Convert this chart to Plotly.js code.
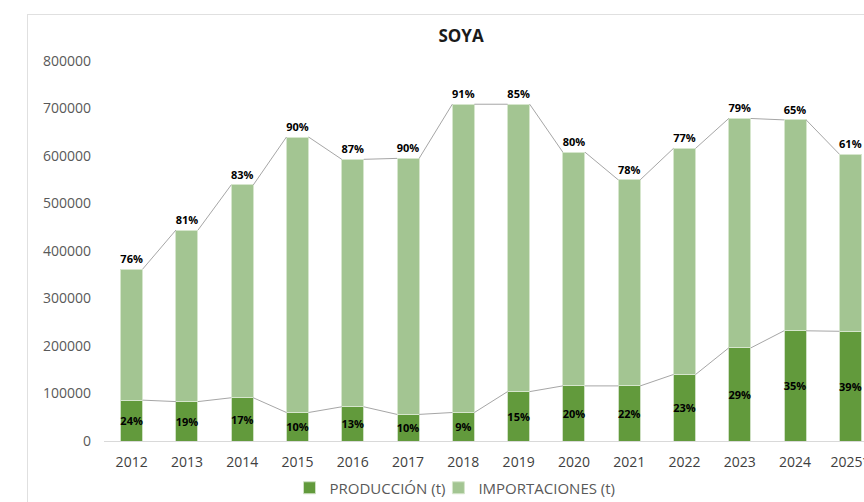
<!DOCTYPE html>
<html>
<head>
<meta charset="utf-8">
<script src="https://cdn.plot.ly/plotly-3.0.1.min.js"></script>
<style>
  html, body { margin: 0; padding: 0; overflow: hidden; background: #ffffff; width: 864px; height: 502px; }
  #frame { position: absolute; left: 27px; top: 14px; width: 866px; height: 500px; border: 1px solid #e0e0e0; }
  #chart { width: 866px; height: 500px; }
</style>
</head>
<body>
<div id="frame"><div id="chart"></div></div>
<script>
// Data
const years = ['2012','2013','2014','2015','2016','2017','2018','2019','2020','2021','2022','2023','2024','2025*'];
const produccion = [86000, 83000, 91000, 60000, 72000, 56000, 60000, 104000, 116000, 116000, 140000, 196000, 232000, 231000];
const importaciones = [276000, 361000, 448000, 580000, 521000, 539000, 649000, 605000, 492000, 434000, 476000, 483000, 444000, 373000];
const produccionPct = ['24%','19%','17%','10%','13%','10%','9%','15%','20%','22%','23%','29%','35%','39%'];
const importacionesPct = ['76%','81%','83%','90%','87%','90%','91%','85%','80%','78%','77%','79%','65%','61%'];
const yTicks = [0, 100000, 200000, 300000, 400000, 500000, 600000, 700000, 800000];

const barWidth = 0.4;
const idx = years.map((_, i) => i);
const totals = produccion.map((p, i) => p + importaciones[i]);

function seriesLine(tops) {
  const xs = [], ys = [];
  for (let i = 0; i < tops.length - 1; i++) {
    xs.push(i + barWidth / 2, i + 1 - barWidth / 2, null);
    ys.push(tops[i], tops[i + 1], null);
  }
  return { x: xs, y: ys };
}

const FONT = 'Open Sans, Liberation Sans, sans-serif';
const labelFont = { family: FONT, size: 11, color: '#000000', weight: 700 };

const lineProd = seriesLine(produccion);
const lineTot = seriesLine(totals);

const traces = [
  {
    type: 'bar', name: 'PRODUCCIÓN (t)', x: idx, y: produccion, width: barWidth,
    marker: { color: '#629a3c', line: { color: '#cfe0c4', width: 1 } },
    text: produccionPct, textposition: 'inside', insidetextanchor: 'middle', textangle: 0,
    textfont: labelFont, insidetextfont: labelFont, constraintext: 'none',
    hoverinfo: 'y'
  },
  {
    type: 'bar', name: 'IMPORTACIONES (t)', x: idx, y: importaciones, width: barWidth,
    marker: { color: '#a3c592', line: { color: '#d6e6cd', width: 1 } },
    text: importacionesPct, textposition: 'outside', textangle: 0,
    textfont: labelFont, outsidetextfont: labelFont, constraintext: 'none', cliponaxis: false,
    hoverinfo: 'y'
  },
  {
    type: 'scatter', mode: 'lines', x: lineProd.x, y: lineProd.y, showlegend: false,
    line: { color: '#a6a6a6', width: 1 }, hoverinfo: 'skip', connectgaps: false
  },
  {
    type: 'scatter', mode: 'lines', x: lineTot.x, y: lineTot.y, showlegend: false,
    line: { color: '#a6a6a6', width: 1 }, hoverinfo: 'skip', connectgaps: false
  }
];

const layout = {
  width: 866, height: 500,
  margin: { l: 76, r: 16, t: 46, b: 74 },
  paper_bgcolor: '#ffffff', plot_bgcolor: '#ffffff',
  barmode: 'stack',
  font: { family: FONT, color: '#595959', size: 14 },
  title: {
    text: 'SOYA', x: 0.5, xanchor: 'center', y: 0.958, yanchor: 'middle', yref: 'container',
    font: { family: FONT, size: 17, color: '#1a1a1a', weight: 700 }
  },
  xaxis: {
    type: 'linear', range: [-0.5, 13.5], tickvals: idx, ticktext: years,
    showgrid: false, zeroline: false, showline: true, linecolor: '#d9d9d9', linewidth: 1,
    ticks: '', ticklabelstandoff: 8, tickfont: { family: FONT, size: 14, color: '#404040' }
  },
  yaxis: {
    range: [0, 800000], tickvals: yTicks, ticktext: yTicks.map(String),
    showgrid: false, zeroline: false, showline: false, ticks: '', ticklabelstandoff: 12,
    tickfont: { family: FONT, size: 14, color: '#595959' }
  },
  showlegend: true,
  legend: {
    orientation: 'h', x: 0.5, xanchor: 'center', xref: 'container',
    y: 0.054, yanchor: 'middle', yref: 'container', indentation: -12,
    font: { family: FONT, size: 15, color: '#595959' }, itemwidth: 30, traceorder: 'normal'
  }
};

Plotly.newPlot('chart', traces, layout, { displayModeBar: false, staticPlot: true });
</script>
</body>
</html>
